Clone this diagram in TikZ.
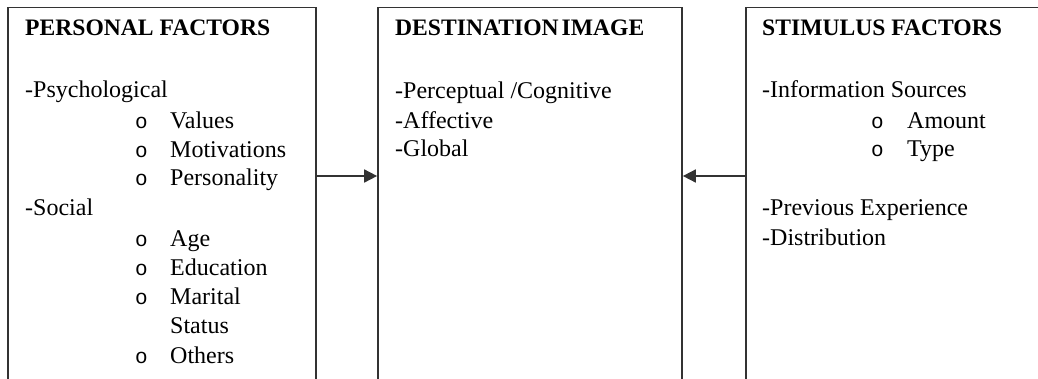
\documentclass[tikz,border=0pt]{standalone}
\usepackage{fontspec}
\setmainfont{Liberation Serif}
\newfontfamily\bulletfont{Liberation Mono}
\usetikzlibrary{arrows.meta}
\begin{document}
\begin{tikzpicture}[x=1pt,y=-1pt,
  box/.style={draw=black!80, line width=1.7pt, rectangle, inner sep=0pt},
  ttl/.style={anchor=base west, inner sep=0pt, font=\fontsize{23.6}{28}\selectfont\bfseries},
  txt/.style={anchor=base west, inner sep=0pt, font=\fontsize{24}{28}\selectfont},
  bul/.style={anchor=base west, inner sep=0pt, font=\fontsize{21}{28}\bulletfont},
  conn/.style={draw=black!80, line width=1.7pt, -{Triangle[length=13pt,width=13pt]}}]
\useasboundingbox (0,0) rectangle (1038,378);
\fill[white] (0,0) rectangle (1038,378);
\clip (0,0) rectangle (1038,378);
% boxes
\node[box, minimum width=308, minimum height=400] (pf) at (162,207.5) {};
\node[box, minimum width=304, minimum height=400] (di) at (530,207.5) {};
\node[box, minimum width=314, minimum height=400] (sf) at (903,207.5) {};
\coordinate (mid) at (0,176);
% connectors
\draw[conn] (pf.east |- mid) -- (di.west |- mid);
\draw[conn] (sf.west |- mid) -- (di.east |- mid);
% personal factors
\node[ttl] (t1) at (25,35) {PERSONAL FACTORS};
\node[txt] (p1) at (25,97) {-Psychological};
\node[bul] (b1) at (135,128) {o}; \node[txt] (v1) at (170,128) {Values};
\node[bul] (b2) at (135,157) {o}; \node[txt] (v2) at (170,157) {Motivations};
\node[bul] (b3) at (135,185) {o}; \node[txt] (v3) at (170,185) {Personality};
\node[txt] (p2) at (25,215) {-Social};
\node[bul] (b4) at (135,246) {o}; \node[txt] (v4) at (170,246) {Age};
\node[bul] (b5) at (135,275) {o}; \node[txt] (v5) at (170,275) {Education};
\node[bul] (b6) at (135,304) {o}; \node[txt] (v6) at (170,304) {Marital};
\node[txt] (v7) at (170,333) {Status};
\node[bul] (b8) at (135,363) {o}; \node[txt] (v8) at (170,363) {Others};
% destination image
\node[ttl] (t2) at (395,35) {DESTINATION\hspace{3pt}IMAGE};
\node[txt] (d1) at (395,98) {-Perceptual /Cognitive};
\node[txt] (d2) at (395,128) {-Affective};
\node[txt] (d3) at (395,156) {-Global};
% stimulus factors
\node[ttl] (t3) at (762,35) {STIMULUS FACTORS};
\node[txt] (s1) at (762,97) {-Information Sources};
\node[bul] (c1) at (871,128) {o}; \node[txt] (a1) at (907,128) {Amount};
\node[bul] (c2) at (871,156) {o}; \node[txt] (a2) at (907,156) {Type};
\node[txt] (s2) at (762,215) {-Previous Experience};
\node[txt] (s3) at (762,245) {-Distribution};
\end{tikzpicture}
\end{document}
